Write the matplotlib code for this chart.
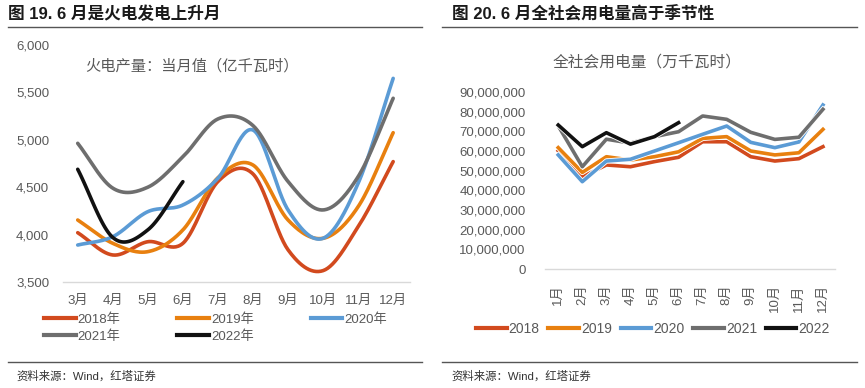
import numpy as np
import matplotlib
matplotlib.use("Agg")
import matplotlib.pyplot as plt
import matplotlib.patheffects as pe
from matplotlib.lines import Line2D

plt.rcParams['font.family'] = ['Liberation Sans', 'Noto Sans CJK SC']

# ---------------- data ----------------
left_months = ["3月", "4月", "5月", "6月", "7月", "8月", "9月", "10月", "11月", "12月"]
thermal_2018 = [4020, 3785, 3925, 3908, 4560, 4640, 3840, 3620, 4083, 4770]
thermal_2019 = [4154, 3908, 3820, 4049, 4600, 4734, 4154, 3961, 4294, 5075]
thermal_2020 = [3890, 3978, 4242, 4312, 4594, 5103, 4260, 3961, 4541, 5648]
thermal_2021 = [4963, 4490, 4500, 4820, 5220, 5150, 4560, 4260, 4611, 5438]
thermal_2022 = [4689, 3970, 4050, 4558]
left_labels = ["2018年", "2019年", "2020年", "2021年", "2022年"]

right_months = ["1月", "2月", "3月", "4月", "5月", "6月", "7月", "8月", "9月", "10月", "11月", "12月"]
power_2018 = [60.1, 46.9, 52.9, 52.0, 54.6, 56.8, 64.7, 64.7, 57.1, 54.9, 56.1, 62.2]
power_2019 = [61.7, 49.1, 57.1, 55.4, 57.1, 59.6, 66.4, 67.3, 60.0, 58.0, 59.1, 71.0]
power_2020 = [58.0, 44.4, 54.9, 55.8, 60.0, 64.2, 68.5, 72.7, 64.4, 61.7, 64.6, 83.4]
power_2021 = [72.8, 52.0, 66.0, 64.0, 67.3, 69.8, 77.8, 76.1, 69.5, 65.9, 67.0, 81.2]
power_2022 = [73.2, 62.2, 69.3, 63.5, 67.3, 74.4]
right_labels = ["2018", "2019", "2020", "2021", "2022"]

colors = ["#D24A1E", "#E8800F", "#5B9BD5", "#6E6E6E", "#111111"]

W, H = 865, 388
fig = plt.figure(figsize=(W / 100, H / 100), dpi=100)


def fx(px):
    return px / W


def fy(py):
    return 1 - py / H


def smooth(y, n=30):
    y = np.asarray(y, dtype=float)
    x = np.arange(len(y), dtype=float)
    xs, ys = [], []
    for i in range(len(y) - 1):
        p0 = y[i - 1] if i > 0 else y[i]
        p1, p2 = y[i], y[i + 1]
        p3 = y[i + 2] if i + 2 < len(y) else y[i + 1]
        m1 = (p2 - p0) / 2 if i > 0 else (p2 - p1)
        m2 = (p3 - p1) / 2 if i + 2 < len(y) else (p2 - p1)
        t = np.linspace(0, 1, n, endpoint=(i == len(y) - 2))
        h00 = 2 * t**3 - 3 * t**2 + 1
        h10 = t**3 - 2 * t**2 + t
        h01 = -2 * t**3 + 3 * t**2
        h11 = t**3 - t**2
        ys.append(h00 * p1 + h10 * m1 + h01 * p2 + h11 * m2)
        xs.append(x[i] + t)
    return np.concatenate(xs), np.concatenate(ys)


grey_txt = "#595959"

# ---------------- headers / rules ----------------
fig.text(fx(8), fy(14), "图 19. 6 月是火电发电上升月", fontsize=12, fontweight='bold',
         va='center', ha='left', color="#1a1a1a")
fig.text(fx(452), fy(14), "图 20. 6 月全社会用电量高于季节性", fontsize=12, fontweight='bold',
         va='center', ha='left', color="#1a1a1a")
for x0, x1 in [(8, 422), (442, 857)]:
    fig.add_artist(Line2D([fx(x0), fx(x1)], [fy(27), fy(27)], color="#555555", lw=1.0))
    fig.add_artist(Line2D([fx(x0), fx(x1)], [fy(362), fy(362)], color="#555555", lw=1.0))
fig.text(fx(16), fy(376), "资料来源：Wind，红塔证券", fontsize=8.2, va='center', ha='left', color="#333333")
fig.text(fx(451), fy(376), "资料来源：Wind，红塔证券", fontsize=8.2, va='center', ha='left', color="#333333")

# ---------------- left chart ----------------
axL = fig.add_axes([fx(63), fy(282), fx(410) - fx(63), fy(45) - fy(282)])
series_L = [thermal_2018, thermal_2019, thermal_2020, thermal_2021, thermal_2022]
handles = []
for s, c, lab in zip(series_L, colors, left_labels):
    xs, ys = smooth(s)
    h, = axL.plot(xs, ys, color=c, lw=2.6, solid_capstyle='round', label=lab)
    handles.append(h)
axL.set_ylim(3500, 6000)
axL.set_xlim(-0.42, 9.48)
axL.set_yticks([3500, 4000, 4500, 5000, 5500, 6000])
axL.set_yticklabels([f"{v:,}" for v in [3500, 4000, 4500, 5000, 5500, 6000]])
axL.set_xticks(range(len(left_months)))
axL.set_xticklabels(left_months)
for sp in ['top', 'right', 'left']:
    axL.spines[sp].set_visible(False)
axL.spines['bottom'].set_color("#d9d9d9")
axL.spines['bottom'].set_linewidth(1.0)
axL.tick_params(axis='both', length=0, labelsize=9.5, colors=grey_txt)
axL.tick_params(axis='y', pad=10)
axL.tick_params(axis='x', pad=9)
axL.text(fx(85) and (85 - 63) / (410 - 63), 0.91, "火电产量：当月值（亿千瓦时）", transform=axL.transAxes,
         fontsize=11, color=grey_txt, ha='left', va='center')
order = [0, 3, 1, 4, 2]
legL = fig.legend(handles=[Line2D([], [], color=colors[i], lw=3) for i in order],
                  labels=[left_labels[i] for i in order],
                  loc='upper left', bbox_to_anchor=(fx(44), fy(313)),
                  ncol=3, frameon=False, fontsize=9.5, handlelength=2.4, handletextpad=0.15,
                  columnspacing=4.3, labelspacing=0.35, borderaxespad=0, borderpad=0)
for t in legL.get_texts():
    t.set_color(grey_txt)

# ---------------- right chart ----------------
axR = fig.add_axes([fx(545), fy(269), fx(835) - fx(545), fy(92) - fy(269)])
series_R = [power_2018, power_2019, power_2020, power_2021, power_2022]
for s, c, lab in zip(series_R, colors, right_labels):
    vals = np.asarray(s) * 1e6
    axR.plot(range(len(vals)), vals, color=c, lw=2.6, label=lab,
             path_effects=[pe.Stroke(linewidth=3.8, foreground='white'), pe.Normal()])
axR.set_ylim(0, 90e6)
axR.set_xlim(-0.55, 11.5)
yt = np.arange(0, 90e6 + 1, 10e6)
axR.set_yticks(yt)
axR.set_yticklabels([f"{int(v):,}" for v in yt])
axR.set_xticks(range(len(right_months)))
axR.set_xticklabels(right_months, rotation=90, va='top', ha='center')
for sp in ['top', 'right', 'left']:
    axR.spines[sp].set_visible(False)
axR.spines['bottom'].set_color("#d9d9d9")
axR.spines['bottom'].set_linewidth(1.0)
axR.tick_params(axis='both', length=0, labelsize=9.5, colors=grey_txt)
axR.tick_params(axis='y', pad=14)
axR.tick_params(axis='x', pad=11)
fig.text(fx(647), fy(62), "全社会用电量（万千瓦时）", fontsize=11.3, color=grey_txt,
         ha='center', va='center')
legR = fig.legend(handles=[Line2D([], [], color=c, lw=3) for c in colors], labels=right_labels,
                  loc='center', bbox_to_anchor=(fx(653), fy(329)), ncol=5, frameon=False,
                  fontsize=10, handlelength=2.2, handletextpad=0.15, columnspacing=0.63,
                  borderaxespad=0, borderpad=0)
for t in legR.get_texts():
    t.set_color(grey_txt)

fig.savefig("out.png", dpi=100)
